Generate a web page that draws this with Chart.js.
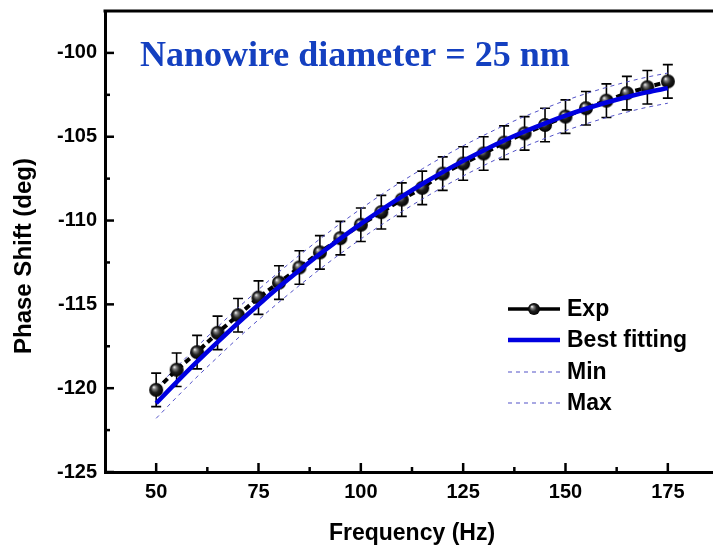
<!DOCTYPE html>
<html><head><meta charset="utf-8">
<script src="https://cdn.jsdelivr.net/npm/chart.js@4.4.1/dist/chart.umd.min.js"></script>
<style>
html,body{margin:0;padding:0;background:#fff;overflow:hidden;width:713px;height:548px}
#wrap{position:relative;width:730px;height:548px}
</style>
</head><body><div id="wrap"><canvas id="c"></canvas></div>
<script>
const freq = [50,55,60,65,70,75,80,85,90,95,100,105,110,115,120,125,130,135,140,145,150,155,160,165,170,175];
const expVals = [-120.1,-118.9,-117.85,-116.7,-115.65,-114.6,-113.7,-112.8,-111.9,-111.05,-110.25,-109.5,-108.75,-108.05,-107.2,-106.6,-106.0,-105.35,-104.8,-104.3,-103.8,-103.3,-102.85,-102.4,-102.05,-101.7];
const errVals = [1,1,1,1,1,1,1,1,1,1,1,1,1,1,1,1,1,1,1,1,1,1,1,1,1,1];
const fitVals = [-120.90,-119.64,-118.42,-117.25,-116.11,-115.02,-113.97,-112.97,-112.00,-111.08,-110.20,-109.36,-108.57,-107.82,-107.11,-106.44,-105.82,-105.23,-104.69,-104.20,-103.74,-103.33,-102.96,-102.63,-102.34,-102.10];
const maxVals = [-120.00,-118.74,-117.52,-116.35,-115.21,-114.12,-113.07,-112.07,-111.10,-110.18,-109.30,-108.46,-107.67,-106.92,-106.21,-105.54,-104.92,-104.33,-103.79,-103.30,-102.84,-102.43,-102.06,-101.73,-101.44,-101.20];
const minVals = [-121.80,-120.54,-119.32,-118.15,-117.01,-115.92,-114.87,-113.87,-112.90,-111.98,-111.10,-110.26,-109.47,-108.72,-108.01,-107.34,-106.72,-106.13,-105.59,-105.10,-104.64,-104.23,-103.86,-103.53,-103.24,-103.00];
const xTicks = [50,75,100,125,150,175];
const yTicks = [-125,-120,-115,-110,-105,-100];
const xMinor = [62.5,87.5,112.5,137.5,162.5];
const yMinor = [-122.5,-117.5,-112.5,-107.5,-102.5];
const seriesNames = ['Exp','Best fitting','Min','Max'];
const chartTitle = 'Nanowire diameter = 25 nm';
const xTitle = 'Frequency (Hz)';
const yTitle = 'Phase Shift (deg)';

function makeBall(r){
  const c = document.createElement('canvas');
  const s = 2*r+2; c.width = s; c.height = s;
  const g = c.getContext('2d'); const cx = s/2, cy = s/2;
  const grad = g.createRadialGradient(cx-r*0.35, cy-r*0.4, 0.3, cx, cy, r);
  grad.addColorStop(0,'#f0f0f0'); grad.addColorStop(0.22,'#808080');
  grad.addColorStop(0.55,'#202020'); grad.addColorStop(1,'#000');
  g.fillStyle = grad; g.beginPath(); g.arc(cx,cy,r,0,Math.PI*2); g.fill();
  return c;
}
const ballImg = makeBall(7);
const legendBall = makeBall(6);

const pts = (arr) => freq.map((f,i)=>({x:f, y:arr[i]}));
const FONT = "'Liberation Sans', Arial, sans-serif";

const errorBars = {
  id:'errorBars',
  beforeDatasetsDraw(chart){
    const {ctx, scales:{x,y}} = chart;
    ctx.save(); ctx.strokeStyle='#000'; ctx.lineWidth=1.6;
    freq.forEach((f,i)=>{
      const px = x.getPixelForValue(f);
      const top = y.getPixelForValue(expVals[i]+errVals[i]);
      const bot = y.getPixelForValue(expVals[i]-errVals[i]);
      ctx.beginPath();
      ctx.moveTo(px,top); ctx.lineTo(px,bot);
      ctx.moveTo(px-5,top); ctx.lineTo(px+5,top);
      ctx.moveTo(px-5,bot); ctx.lineTo(px+5,bot);
      ctx.stroke();
    });
    ctx.restore();
  }
};

const decor = {
  id:'decor',
  afterDraw(chart){
    const {ctx, chartArea:a, scales:{x,y}} = chart;
    ctx.save();
    ctx.strokeStyle='#000'; ctx.lineWidth=3; ctx.lineCap='square';
    ctx.beginPath(); ctx.moveTo(a.left,a.top); ctx.lineTo(a.right,a.top); ctx.lineTo(a.right,a.bottom); ctx.stroke();
    ctx.lineCap='butt';
    ctx.lineWidth=2.5;
    xTicks.forEach(v=>{const p=x.getPixelForValue(v); ctx.beginPath(); ctx.moveTo(p,a.bottom); ctx.lineTo(p,a.bottom-9); ctx.stroke();});
    xMinor.forEach(v=>{const p=x.getPixelForValue(v); ctx.beginPath(); ctx.moveTo(p,a.bottom); ctx.lineTo(p,a.bottom-5); ctx.stroke();});
    yTicks.forEach(v=>{const p=y.getPixelForValue(v); ctx.beginPath(); ctx.moveTo(a.left,p); ctx.lineTo(a.left+9,p); ctx.stroke();});
    yMinor.forEach(v=>{const p=y.getPixelForValue(v); ctx.beginPath(); ctx.moveTo(a.left,p); ctx.lineTo(a.left+5,p); ctx.stroke();});
    ctx.fillStyle='#1440c0'; ctx.font="bold 36px 'Liberation Serif', 'Times New Roman', serif";
    ctx.textAlign='left'; ctx.textBaseline='alphabetic';
    ctx.fillText(chartTitle, a.left+35, 66);
    ctx.save();
    ctx.translate(24, 256); ctx.rotate(-Math.PI/2);
    ctx.fillStyle='#000'; ctx.font="bold 24px "+FONT; ctx.textAlign='center'; ctx.textBaseline='middle';
    ctx.fillText(yTitle, 0, 0);
    ctx.restore();
    const rows = [309,340,372,403];
    const x0 = 508, x1 = 560;
    ctx.font="bold 23px "+FONT; ctx.textAlign='left'; ctx.textBaseline='middle'; ctx.fillStyle='#000';
    chart.data.datasets.forEach((ds)=>{
      const idx = seriesNames.indexOf(ds.label);
      const ry = rows[idx];
      ctx.save();
      ctx.strokeStyle = ds.borderColor; ctx.lineWidth = idx===0?3.5:(idx===1?4.5:1);
      ctx.setLineDash(idx>=2?[4,4]:[]);
      ctx.beginPath(); ctx.moveTo(x0,ry); ctx.lineTo(x1,ry); ctx.stroke();
      ctx.restore();
      if(idx===0) ctx.drawImage(legendBall, (x0+x1)/2-legendBall.width/2, ry-legendBall.height/2);
      ctx.fillText(ds.label, 567, ry+1);
    });
    ctx.restore();
  }
};

new Chart(document.getElementById('c'), {
  type:'line',
  data:{
    datasets:[
      {label:seriesNames[0], data:pts(expVals), borderColor:'#000', borderWidth:4, borderDash:[6,4],
       pointStyle:ballImg, pointRadius:7, tension:0, order:1},
      {label:seriesNames[1], data:pts(fitVals), borderColor:'#0000e0', borderWidth:4.5, pointRadius:0,
       cubicInterpolationMode:'monotone', order:0},
      {label:seriesNames[2], data:pts(minVals), borderColor:'#5252c8', borderWidth:1, borderDash:[4,4], pointRadius:0,
       cubicInterpolationMode:'monotone', order:2},
      {label:seriesNames[3], data:pts(maxVals), borderColor:'#5252c8', borderWidth:1, borderDash:[4,4], pointRadius:0,
       cubicInterpolationMode:'monotone', order:2}
    ]
  },
  options:{
    responsive:true, maintainAspectRatio:false, animation:false,
    layout:{padding:{top:11,right:9,left:0,bottom:0}},
    plugins:{legend:{display:false}, tooltip:{enabled:false}},
    scales:{
      x:{type:'linear', min:37.5, max:187.5,
        afterBuildTicks:(s)=>{s.ticks = xTicks.map(v=>({value:v}));},
        afterFit:(s)=>{s.height = 76; s.paddingLeft = 0; s.paddingRight = 0;},
        grid:{display:false, drawTicks:false},
        border:{display:true, color:'#000', width:3},
        ticks:{color:'#000', padding:8, font:{family:FONT, size:20, weight:'bold'}, maxRotation:0, autoSkip:false},
        title:{display:true, text:xTitle, color:'#000', padding:{top:0,bottom:1}, font:{family:FONT, size:23, weight:'bold'}}
      },
      y:{type:'linear', min:-125, max:-97.5,
        afterBuildTicks:(s)=>{s.ticks = yTicks.map(v=>({value:v}));},
        afterFit:(s)=>{s.width = 105; s.paddingTop = 0; s.paddingBottom = 0;},
        grid:{display:false, drawTicks:false},
        border:{display:true, color:'#000', width:3},
        ticks:{color:'#000', padding:8, font:{family:FONT, size:20, weight:'bold'}, autoSkip:false},
        title:{display:false}
      }
    }
  },
  plugins:[errorBars, decor]
});
</script>
</body></html>
